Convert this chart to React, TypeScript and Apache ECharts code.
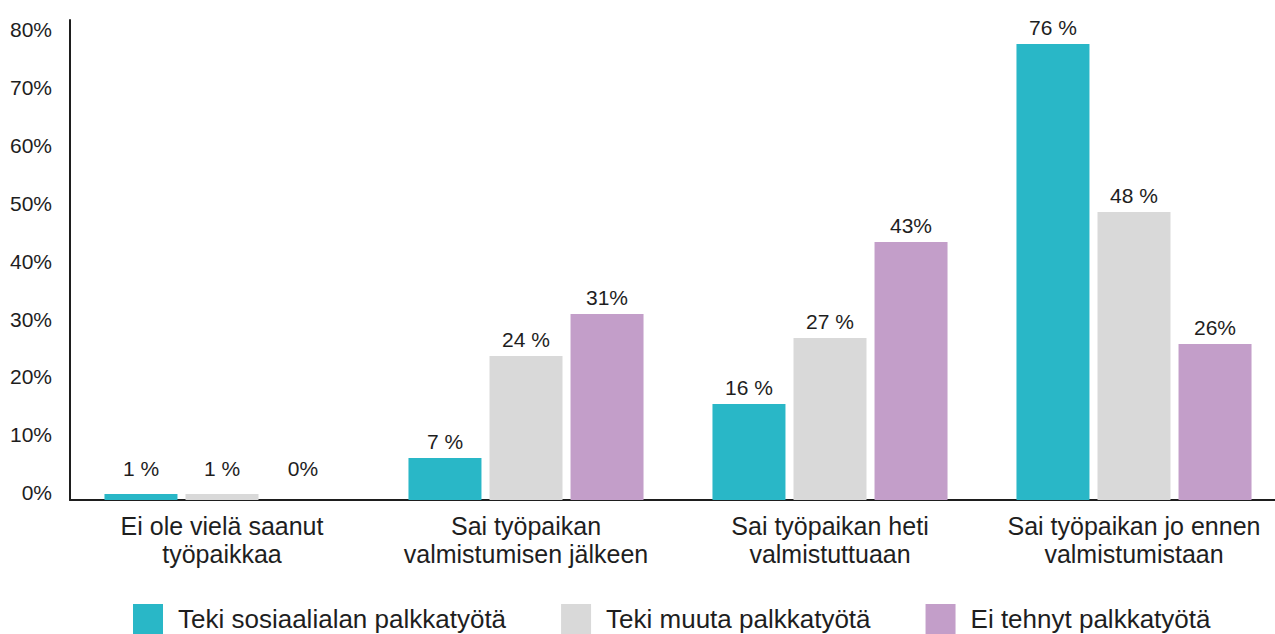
import React, { useEffect, useRef } from "react";
import * as echarts from "echarts";

const categories = [
  "Ei ole vielä saanut\ntyöpaikkaa",
  "Sai työpaikan\nvalmistumisen jälkeen",
  "Sai työpaikan heti\nvalmistuttuaan",
  "Sai työpaikan jo ennen\nvalmistumistaan",
];
const seriesNames = [
  "Teki sosiaalialan palkkatyötä",
  "Teki muuta palkkatyötä",
  "Ei tehnyt palkkatyötä",
];
const sosiaaliala = [1, 7, 16, 76];
const muuta = [1, 24, 27, 48];
const eiTehnyt = [0, 31, 43, 26];
const yTicks = [0, 10, 20, 30, 40, 50, 60, 70, 80];

const FONT = "'Liberation Sans', Arial, sans-serif";
const TEXT = "#1e1e1e";

export default function App() {
  const ref = useRef<HTMLDivElement>(null);
  useEffect(() => {
    if (!ref.current) return;
    const chart = echarts.init(ref.current, null, { renderer: "svg" });
    const mk = (
      name: string,
      values: number[],
      color: string,
      fmt: string,
      firstOffset: number
    ) => ({
      name,
      type: "bar",
      barWidth: 73,
      barGap: "11%",
      itemStyle: { color },
      label: {
        show: true,
        position: "top",
        distance: 6,
        formatter: fmt,
        color: TEXT,
        fontFamily: FONT,
        fontSize: 21,
      },
      data: values.map((v, i) =>
        i === 0 ? { value: v, label: { offset: [0, firstOffset] } } : v
      ),
    });
    chart.setOption({
      animation: false,
      textStyle: { fontFamily: FONT, color: TEXT },
      grid: {
        left: 70,
        width: 1216,
        top: 20,
        bottom: 134,
        containLabel: false,
        outerBoundsMode: "none",
      },
      legend: {
        left: 133,
        top: 604,
        padding: 0,
        itemWidth: 30,
        itemHeight: 30,
        itemGap: 55,
        icon: "rect",
        textStyle: {
          fontFamily: FONT,
          fontSize: 26,
          color: TEXT,
          padding: [0, 0, 0, 10],
        },
        data: seriesNames,
      },
      xAxis: {
        type: "category",
        data: categories,
        axisLine: { lineStyle: { color: TEXT, width: 2 } },
        axisTick: { show: false },
        axisLabel: {
          interval: 0,
          margin: 12,
          fontFamily: FONT,
          fontSize: 25,
          lineHeight: 28,
          color: TEXT,
        },
      },
      yAxis: [
        {
          type: "value",
          min: 0,
          max: 80,
          interval: 10,
          axisLine: { show: true, lineStyle: { color: TEXT, width: 2 } },
          axisTick: { show: false },
          splitLine: { show: false },
          axisLabel: { show: false },
        },
        {
          type: "value",
          position: "left",
          min: -1.294,
          max: 81.7,
          axisLine: { show: false },
          axisTick: { show: false },
          splitLine: { show: false },
          axisLabel: {
            customValues: yTicks,
            formatter: (v: number) => `${Math.round(v)}%`,
            margin: 18,
            fontFamily: FONT,
            fontSize: 21,
            color: TEXT,
          },
        },
      ],
      series: [
        mk(seriesNames[0], sosiaaliala, "#29B7C7", "{c} %", -9),
        mk(seriesNames[1], muuta, "#D9D9D9", "{c} %", -9),
        mk(seriesNames[2], eiTehnyt, "#C39EC9", "{c}%", -15),
      ],
    });
    return () => chart.dispose();
  }, []);
  return (
    <div
      ref={ref}
      style={{ position: "fixed", left: 0, top: 0, width: 1275, height: 634, background: "#fff" }}
    />
  );
}
